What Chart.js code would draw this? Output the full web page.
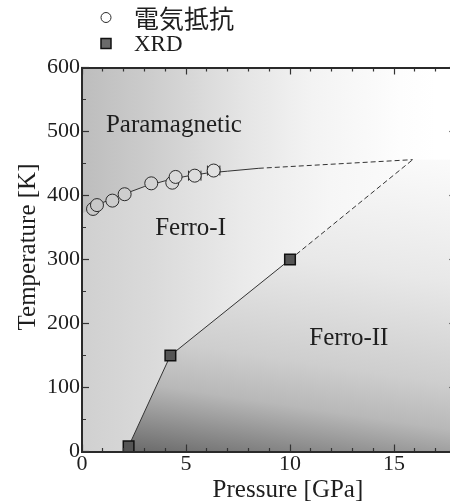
<!DOCTYPE html>
<html><head><meta charset="utf-8">
<script src="https://cdn.jsdelivr.net/npm/chart.js@4.4.1/dist/chart.umd.min.js"></script>
<style>html,body{margin:0;padding:0;background:#fff;overflow:hidden;width:450px;height:504px}canvas{display:block}</style>
</head><body>
<!-- the plot frame continues a few pixels past the right edge of the 450px picture -->
<canvas id="c" width="457" height="504"></canvas>
<script>
// ---------- data ----------
const resistP    = [0.53, 0.72, 1.46, 2.05, 3.33, 4.34, 4.50, 5.42, 6.33];
const resistT    = [379, 385, 392, 402, 419, 420, 429, 431, 439];
const resistPErr = [0, 0, 0, 0, 0, 0, 0, 0.3, 0.3];
const xrdP = [2.24, 4.25, 10.0];
const xrdT = [8, 150, 300];
// Curie-line (Paramagnetic / Ferro-I boundary)
const curieP = [0, 0.4, 1.0, 2.0, 3.0, 4.0, 5.0, 6.0, 7.0, 8.5, 15.9, 18];
const curieT = [372, 378, 389, 402, 414, 423, 430, 435, 438, 442.5, 456, 456];
const curieDashFrom = 8.5;
// Ferro-I / Ferro-II boundary
const ferroP = [...xrdP, 15.9, 18];
const ferroT = [...xrdT, 456, 456];
const ferroDashFrom = 10;
// region names
const regionNames = ['Paramagnetic', 'Ferro-I', 'Ferro-II'];
const regionP = [4.42, 5.22, 12.83];
const regionT = [509, 349, 176];
const legendLabels = ['電気抵抗', 'XRD'];
const xMajor = 5, xMinor = 1, yMajor = 100, yMinor = 50;

// ---------- style ----------
const SERIF = '"Liberation Serif", "Times New Roman", serif';
const CJK = '"Noto Sans CJK JP", "Noto Sans CJK SC", sans-serif';
const INK = '#2a2a2a';
const NONE = 'rgba(0,0,0,0)';
const paraStops   = [[0,189],[0.2,205],[0.45,228],[0.65,243],[0.9,253],[1,255]];
const ferroIStops = [[0,208],[0.2,218],[0.45,234],[0.7,246],[1,253]];
const ferroIIStops= [[0,106],[0.137,160],[0.2,184],[0.33,206],[0.62,232],[0.96,250],[1,251]];
const gray = v => `rgb(${Math.round(v)},${Math.round(v)},${Math.round(v)})`;
const pts = (xs, ys) => xs.map((x, i) => ({x, y: ys[i]}));
function stopAt(stops, t){
  t = Math.max(0, Math.min(1, t));
  for (let i = 1; i < stops.length; i++) {
    if (t <= stops[i][0]) {
      const [t0, v0] = stops[i-1], [t1, v1] = stops[i];
      return v0 + (v1 - v0) * (t - t0) / (t1 - t0);
    }
  }
  return stops[stops.length-1][1];
}
function hGrad(chart, stops){
  const a = chart.chartArea;
  const g = chart.ctx.createLinearGradient(a.left, 0, chart.scales.x.getPixelForValue(17), 0);
  stops.forEach(([t, v]) => g.addColorStop(t, gray(v)));
  return g;
}
function ferroIGrad(c){ const ch = c.chart; return ch.chartArea ? hGrad(ch, ferroIStops) : NONE; }
function ferroIIGrad(c){
  const ch = c.chart; if (!ch.chartArea) return NONE;
  const x0 = ch.scales.x.getPixelForValue(2.3), y0 = ch.scales.y.getPixelForValue(0);
  const k = 0.15, s = 350 / (1 + k * k);
  const g = ch.ctx.createLinearGradient(x0, y0, x0 + s * k, y0 - s);
  ferroIIStops.forEach(([t, v]) => g.addColorStop(t, gray(v)));
  return g;
}
function circleFill(c){
  const ch = c.chart; if (!ch.chartArea || !c.parsed) return '#ddd';
  const a = ch.chartArea, xs = ch.scales.x;
  const t = (xs.getPixelForValue(c.parsed.x) - a.left) / (xs.getPixelForValue(17) - a.left);
  return gray((stopAt(paraStops, t) + stopAt(ferroIStops, t)) / 2);
}

// ---------- plugins ----------
const bgPlugin = {
  id: 'paraBg',
  beforeDraw(chart){
    const a = chart.chartArea, ctx = chart.ctx;
    ctx.save(); ctx.fillStyle = hGrad(chart, paraStops);
    ctx.fillRect(a.left, a.top, a.right - a.left, a.bottom - a.top); ctx.restore();
  }
};
const errPlugin = {
  id: 'xErr',
  beforeDatasetsDraw(chart){
    const xs = chart.scales.x, ys = chart.scales.y, ctx = chart.ctx;
    ctx.save(); ctx.strokeStyle = INK; ctx.lineWidth = 1;
    resistP.forEach((p, i) => {
      const e = resistPErr[i]; if (!e) return;
      const y = ys.getPixelForValue(resistT[i]);
      const x1 = xs.getPixelForValue(p - e), x2 = xs.getPixelForValue(p + e);
      ctx.beginPath();
      ctx.moveTo(x1, y); ctx.lineTo(x2, y);
      ctx.moveTo(x1, y - 5); ctx.lineTo(x1, y + 5);
      ctx.moveTo(x2, y - 5); ctx.lineTo(x2, y + 5);
      ctx.stroke();
    });
    ctx.restore();
  }
};
const regionPlugin = {
  id: 'regions',
  afterDatasetsDraw(chart){
    const xs = chart.scales.x, ys = chart.scales.y, ctx = chart.ctx;
    ctx.save(); ctx.fillStyle = '#1e1e1e'; ctx.font = `25px ${SERIF}`;
    ctx.textAlign = 'center'; ctx.textBaseline = 'middle';
    regionNames.forEach((n, i) => ctx.fillText(n, xs.getPixelForValue(regionP[i]), ys.getPixelForValue(regionT[i])));
    ctx.restore();
  }
};
const legendPlugin = {
  id: 'stackLegend',
  afterDraw(chart){
    const ctx = chart.ctx;
    const items = chart.data.datasets.filter(d => d.inLegend);
    items.forEach((d, i) => {
      const y = 17.5 + 26 * i;
      ctx.save();
      ctx.fillStyle = d.legendFill; ctx.strokeStyle = d.pointBorderColor;
      ctx.lineWidth = d.pointBorderWidth;
      Chart.helpers.drawPoint(ctx, {pointStyle: d.pointStyle, rotation: 0,
        radius: d.legendRadius, borderWidth: d.pointBorderWidth}, 106, y);
      ctx.fillStyle = '#1e1e1e'; ctx.textAlign = 'left'; ctx.textBaseline = 'middle';
      ctx.font = d.legendFont;
      ctx.fillText(d.label, 134, y + (i === 0 ? 0.5 : 1.5));
      ctx.restore();
    });
  }
};

// ---------- axes helpers ----------
function fitter(size){
  return s => {
    if (size.w !== undefined) s.width = size.w;
    if (size.h !== undefined) s.height = size.h;
    s.paddingRight = 0;
  };
}
function axisGrid(majorStep, inner){
  return {
    display: true, drawOnChartArea: false, drawTicks: true, tickLength: -7,
    tickColor: '#333', tickWidth: 1.2, z: 1,
    tickBorderDash: c => (c.tick && Math.abs(c.tick.value % majorStep) < 1e-6) ? [] : (inner ? [0, 3, 10, 100] : [5, 100])
  };
}
const border = {display: true, color: INK, width: 2, z: 1};
const tickFont = {family: SERIF, size: 22, lineHeight: 1};
const lineBase = {pointRadius: 0, borderWidth: 1, borderColor: '#333', tension: 0, fill: false};
const fillBase = {pointRadius: 0, borderWidth: 0, borderColor: NONE, tension: 0, fill: 'start'};

new Chart(document.getElementById('c'), {
  type: 'line',
  data: {
    datasets: [
      {
        label: legendLabels[0], inLegend: true, legendFont: `25px ${CJK}`, legendRadius: 5, legendFill: NONE,
        data: pts(resistP, resistT), showLine: false,
        pointStyle: 'circle', pointRadius: 6.5, pointBorderWidth: 1,
        pointBorderColor: INK, pointBackgroundColor: circleFill, order: 0
      },
      {
        label: legendLabels[1], inLegend: true, legendFont: `23px ${SERIF}`, legendRadius: 7.07, legendFill: '#6a6a6a',
        data: pts(xrdP, xrdT), showLine: false,
        pointStyle: 'rect', pointRadius: 7.5, pointBorderWidth: 1.5,
        pointBorderColor: '#111', pointBackgroundColor: '#555', order: 0
      },
      Object.assign({label: 'curie line', data: pts(curieP, curieT), order: 1,
        segment: {
          borderColor: s => (s.p0DataIndex === 0 || s.p1DataIndex === curieP.length - 1) ? NONE : undefined,
          borderDash: s => s.p0.parsed.x >= curieDashFrom - 1e-9 ? [5, 3] : undefined
        }}, lineBase),
      Object.assign({label: 'ferro line', data: pts(ferroP, ferroT), order: 1,
        segment: {
          borderColor: s => (s.p1DataIndex === ferroP.length - 1) ? NONE : undefined,
          borderDash: s => s.p0.parsed.x >= ferroDashFrom - 1e-9 ? [5, 3] : undefined
        }}, lineBase),
      Object.assign({label: 'Ferro-I area', data: pts(curieP, curieT), backgroundColor: ferroIGrad, order: 5}, fillBase),
      Object.assign({label: 'Ferro-II area', data: pts(ferroP, ferroT), backgroundColor: ferroIIGrad, order: 4}, fillBase)
    ]
  },
  options: {
    responsive: false, devicePixelRatio: 1, animation: false, events: [],
    layout: {autoPadding: false, padding: {top: 67.5, right: 0.6, bottom: 0, left: 0}},
    plugins: {legend: {display: false}, tooltip: {enabled: false}, filler: {drawTime: 'beforeDatasetsDraw'}},
    scales: {
      x: {
        type: 'linear', position: 'bottom', min: 0, max: 18,
        afterFit: fitter({h: 52.5}),
        ticks: {stepSize: xMinor, autoSkip: false, maxRotation: 0, padding: 8.5, color: '#1e1e1e', font: tickFont,
          callback: v => (v % xMajor === 0 ? v : '')},
        grid: axisGrid(xMajor, false), border,
        title: {display: true, text: '      Pressure [GPa]', color: '#1e1e1e',
          font: {family: SERIF, size: 25, lineHeight: 1}, padding: {top: 0, bottom: 1}}
      },
      x2: {
        type: 'linear', position: 'top', min: 0, max: 18,
        afterFit: fitter({h: 0}),
        ticks: {stepSize: xMinor, autoSkip: false, display: false},
        grid: axisGrid(xMajor, true), border
      },
      y: {
        type: 'linear', position: 'left', min: 0, max: 600,
        afterFit: fitter({w: 82}),
        ticks: {stepSize: yMinor, autoSkip: false, padding: 9, color: '#1e1e1e', font: tickFont,
          callback: v => (v % yMajor === 0 ? v : '')},
        grid: axisGrid(yMajor, true), border,
        title: {display: true, text: '    Temperature [K]', color: '#1e1e1e',
          font: {family: SERIF, size: 25, lineHeight: 1}, padding: {top: 15.5, bottom: 0}}
      },
      y2: {
        type: 'linear', position: 'right', min: 0, max: 600,
        afterFit: fitter({w: 0}),
        ticks: {stepSize: yMinor, autoSkip: false, display: false},
        grid: axisGrid(yMajor, false), border
      }
    }
  },
  plugins: [bgPlugin, errPlugin, regionPlugin, legendPlugin]
});
</script>
</body></html>
